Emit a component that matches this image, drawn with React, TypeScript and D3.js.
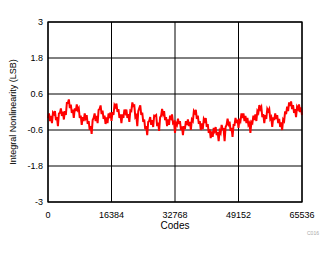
import React from "react";
import * as d3 from "d3";

const yTicks = [-3, -1.8, -0.6, 0.6, 1.8, 3];
const xTicks = [0, 16384, 32768, 49152, 65536];
const codeStep = 256;
const inl = [
  -0.20, -0.05, -0.30, -0.13, -0.37, -0.02, -0.07, 0.03, -0.27, -0.17,
  -0.47, -0.05, -0.03, 0.12, -0.13, 0.01, -0.25, 0.03, -0.10, 0.30,
  0.30, 0.42, 0.13, 0.25, -0.03, 0.08, -0.20, 0.12, 0.03, 0.25,
  0.07, 0.13, -0.20, -0.12, -0.43, -0.17, -0.30, -0.05, -0.20, -0.10,
  -0.40, -0.30, -0.60, -0.47, -0.73, -0.27, -0.20, -0.05, -0.30, -0.13,
  -0.37, 0.07, 0.10, 0.22, -0.07, 0.05, -0.23, -0.12, -0.40, -0.18,
  -0.37, -0.05, -0.13, -0.02, -0.30, 0.00, -0.10, 0.23, 0.17, 0.28,
  0.00, 0.10, -0.20, -0.08, -0.37, -0.08, -0.20, 0.08, -0.03, 0.08,
  -0.20, -0.07, -0.33, 0.05, 0.03, 0.32, 0.20, 0.22, -0.17, -0.12,
  -0.47, 0.03, 0.13, 0.22, -0.10, -0.02, -0.33, -0.25, -0.57, -0.47,
  -0.77, -0.33, -0.30, -0.17, -0.43, -0.27, -0.50, -0.12, -0.13, -0.10,
  -0.47, -0.35, -0.63, -0.18, -0.13, 0.10, -0.07, 0.03, -0.27, -0.17,
  -0.47, -0.25, -0.43, -0.12, -0.20, -0.08, -0.37, -0.33, -0.70, -0.37,
  -0.43, -0.22, -0.40, -0.30, -0.60, -0.48, -0.77, -0.47, -0.57, -0.30,
  -0.43, -0.25, -0.47, -0.33, -0.60, -0.25, -0.30, 0.03, -0.03, 0.07,
  -0.23, -0.12, -0.40, -0.30, -0.60, -0.38, -0.57, -0.23, -0.30, -0.20,
  -0.50, -0.40, -0.70, -0.58, -0.87, -0.65, -0.83, -0.53, -0.63, -0.50,
  -0.77, -0.67, -0.97, -0.63, -0.70, -0.43, -0.57, -0.57, -0.97, -0.50,
  -0.43, -0.22, -0.40, -0.32, -0.63, -0.53, -0.83, -0.43, -0.43, -0.20,
  -0.37, -0.25, -0.53, -0.22, -0.30, -0.05, -0.20, -0.05, -0.30, -0.13,
  -0.37, -0.20, -0.43, -0.37, -0.70, -0.33, -0.37, -0.12, -0.27, -0.08,
  -0.30, 0.03, -0.03, 0.23, 0.10, 0.17, -0.17, -0.07, -0.37, -0.10,
  -0.23, 0.10, 0.03, 0.10, -0.23, -0.17, -0.50, -0.18, -0.27, -0.05,
  -0.23, -0.10, -0.37, -0.23, -0.50, -0.35, -0.60, -0.25, -0.30, 0.02,
  -0.07, 0.18, 0.03, 0.32, 0.20, 0.35, 0.10, 0.23, -0.03, 0.10,
  -0.17, 0.17, 0.10, 0.25, 0.00, 0.15, -0.10,
];

export default function App() {
  const W = 335, H = 254;
  const L = 48, R = 302, T = 22, B = 202;
  const x = d3.scaleLinear().domain([0, 65536]).range([L, R]);
  const y = d3.scaleLinear().domain([-3, 3]).range([B, T]);
  const pts: [number, number][] = inl.map((v, i) => [i * codeStep, v]);
  const line = d3.line<[number, number]>().x(d => x(d[0])).y(d => y(d[1]));
  const font = "'Liberation Sans', Arial, sans-serif";
  return (
    <svg width={W} height={H} style={{ position: "absolute", left: 0, top: 0 }}>
      <rect width={W} height={H} fill="#fff" />
      {yTicks.map(t => (
        <line key={"gy" + t} x1={L} x2={R} y1={y(t)} y2={y(t)} stroke="#000" strokeWidth={1} />
      ))}
      {xTicks.map(t => (
        <line key={"gx" + t} x1={x(t)} x2={x(t)} y1={T} y2={B} stroke="#000" strokeWidth={1} />
      ))}
      <path d={line(pts) || ""} fill="none" stroke="#ff0000" strokeWidth={2} strokeLinejoin="miter" />
      <rect x={L} y={T} width={R - L} height={B - T} fill="none" stroke="#000" strokeWidth={1.3} />
      {yTicks.map(t => (
        <text key={"ty" + t} x={43} y={y(t) + 3.2} textAnchor="end" fontFamily={font} fontSize={9} fill="#000">
          {String(t)}
        </text>
      ))}
      {xTicks.map(t => (
        <text key={"tx" + t} x={x(t)} y={217.5} textAnchor="middle" fontFamily={font} fontSize={9} fill="#000">
          {String(t)}
        </text>
      ))}
      <text x={175} y={229} textAnchor="middle" fontFamily={font} fontSize={10} fill="#000">Codes</text>
      <text transform={`translate(16,${(T + B) / 2}) rotate(-90)`} textAnchor="middle" fontFamily={font} fontSize={9} fill="#000">
        Integral Nonlinearity (LSB)
      </text>
      <text x={307} y={235} textAnchor="start" fontFamily={font} fontSize={5} fill="#aaa">C016</text>
    </svg>
  );
}
